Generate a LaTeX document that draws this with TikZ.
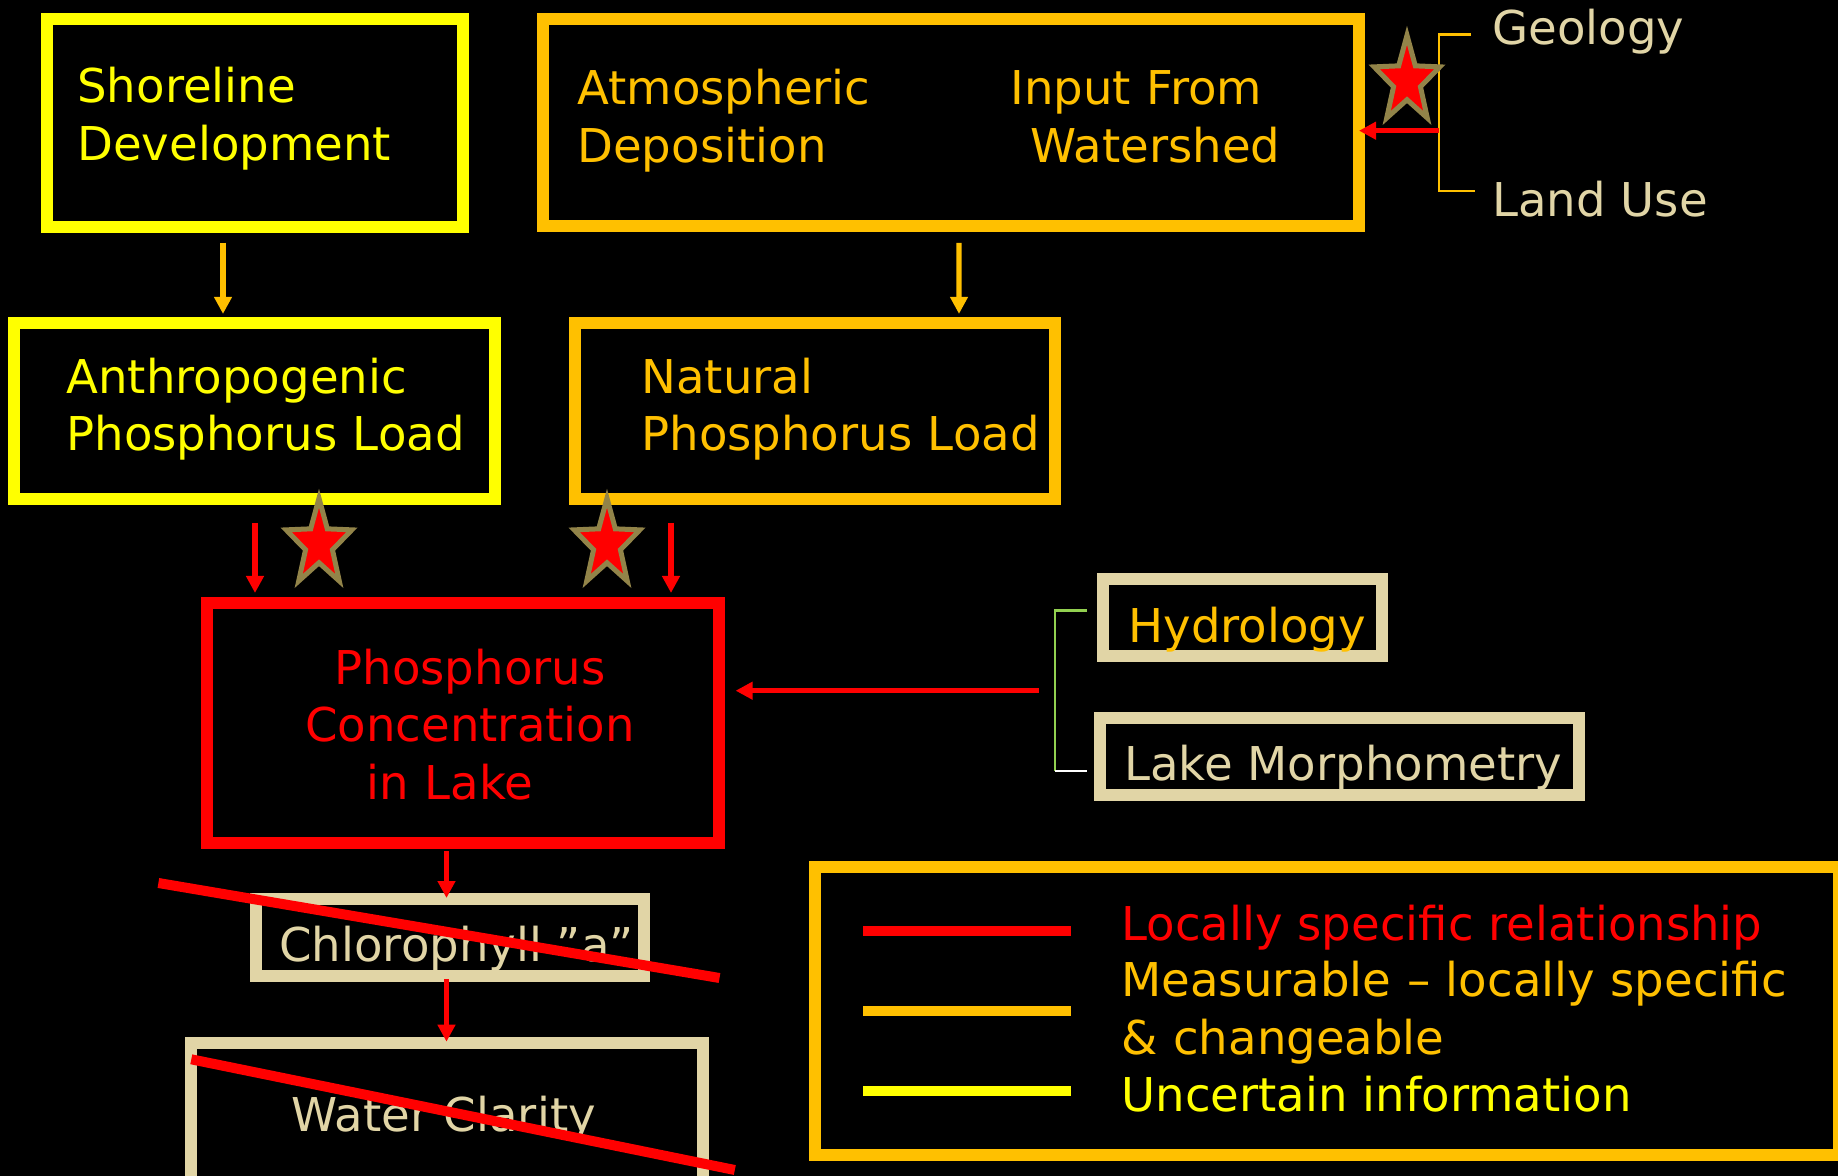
\documentclass[tikz,border=0pt]{standalone}
\usepackage{fontspec}
\setmainfont{DejaVu Sans}
\usepackage{xcolor}
\usepackage{tikz}
\usetikzlibrary{calc}
\usetikzlibrary{positioning}
\usetikzlibrary{arrows.meta}

\definecolor{pptred}{HTML}{FF0000}
\definecolor{pptorange}{HTML}{FFC000}
\definecolor{pptyellow}{HTML}{FFFF00}
\definecolor{ppttan}{HTML}{E1D5A6}
\definecolor{starbrown}{HTML}{928449}
\definecolor{bracegreen}{HTML}{92D050}

\tikzset{
  redstar/.pic={
    \draw[fill=pptred,draw=starbrown,line width=2.5pt]
      (270:1) \foreach \k in {0,...,3}{ -- ({306+72*\k}:0.41) -- ({342+72*\k}:1)}
      -- (594:0.41) -- cycle;}
}

\begin{document}
\begin{tikzpicture}[
      x=0.5pt, y=-0.5pt,
      font=\fontsize{23.3pt}{28.75pt}\selectfont,
      yellowbox/.style={
         draw=pptyellow,
         line width=6pt,
         inner sep=0pt,
         outer sep=0pt},
      orangebox/.style={
         draw=pptorange,
         line width=6pt,
         inner sep=0pt,
         outer sep=0pt},
      redbox/.style={
         draw=pptred,
         line width=6pt,
         inner sep=0pt,
         outer sep=0pt},
      tanbox/.style={
         draw=ppttan,
         line width=6pt,
         inner sep=0pt,
         outer sep=0pt},
      txt/.style={
         anchor=base west,
         inner sep=0pt,
         align=left},
      myarrow/.style={-{Triangle[length=8.5pt,width=8.5pt]},line width=2.6pt},
      thinline/.style={line width=1.2pt},
      crossout/.style={draw=pptred,line width=5pt}
      ]
      \useasboundingbox (0,0) rectangle (1838,1176);
      \fill[black] (0,0) rectangle (1838,1176);

      % boxes
      \node[yellowbox,minimum width=208pt,minimum height=103.7pt] (shore) at (255,123) {};
      \node[orangebox,minimum width=408pt,minimum height=103.5pt] (atmos) at (951,122.5) {};
      \node[yellowbox,minimum width=240.2pt,minimum height=88.2pt] (anthro) at (254.5,410.8) {};
      \node[orangebox,minimum width=240pt,minimum height=88.2pt] (natural) at (814.8,410.8) {};
      \node[redbox,minimum width=255.6pt,minimum height=120pt] (phos) at (463,722.7) {};
      \node[tanbox,minimum width=139.5pt,minimum height=38.5pt] (hydro) at (1242.5,617.5) {};
      \node[tanbox,minimum width=239.5pt,minimum height=38.5pt] (morph) at (1339.5,756.5) {};
      \node[tanbox,minimum width=194pt,minimum height=38.5pt] (chloro) at (449.5,937.5) {};
      \node[tanbox,minimum width=256pt,minimum height=71pt] (clarity) at (447,1114) {};
      \node[orangebox,minimum width=512pt,minimum height=144pt] (legend) at (1327,1011) {};

      % texts
      \node[txt,pptyellow,text width=170pt] (shoreTxt) at (77,103) {Shoreline\\Development};
      \node[txt,pptorange,text width=160pt] (atmosTxt) at (577,105) {Atmospheric\\Deposition};
      \node[txt,pptorange,text width=140pt] (inputTxt) at (1010,105) {Input From\\\hspace*{10pt}Watershed};
      \node[txt,pptyellow,text width=210pt] (anthroTxt) at (66,393.3) {Anthropogenic\\Phosphorus Load};
      \node[txt,pptorange,text width=210pt] (naturalTxt) at (641,393.3) {Natural\\Phosphorus Load};
      \node[txt,pptred,text width=200pt,anchor=base,align=center] (phosTxt) at (470,684) {Phosphorus\\Concentration\\in Lake\hspace*{20pt}};
      \node[txt,pptorange] (hydroTxt) at (1128,643) {Hydrology};
      \node[txt,ppttan] (morphTxt) at (1124,780) {Lake Morphometry};
      \node[txt,ppttan] (chloroTxt) at (279,961.7) {Chlorophyll ”a”};
      \node[txt,ppttan] (clarityTxt) at (291,1131.7) {Water Clarity};
      \node[txt,ppttan] (geo) at (1492,45) {Geology};
      \node[txt,ppttan] (landuse) at (1492,217) {Land Use};
      \node[txt,pptred] (legRed) at (1121,940) {Locally specific relationship};
      \node[txt,pptorange,text width=340pt] (legOrange) at (1121,996.7) {Measurable – locally specific\\\& changeable};
      \node[txt,pptyellow] (legYellow) at (1121,1111.7) {Uncertain information};

    \foreach \i/\j/\di/\si/\dj/\tj/\c in {% from/to/x off/y off/x off/y off/colour
      shore/anthro/-32/16/-31.5/-8.7/pptorange,
      atmos/natural/8/17/144.2/-8.7/pptorange,
      anthro/phos/0.5/24/-208/-9.7/pptred,
      natural/phos/-143.8/24/208/-9.7/pptred,
      phos/chloro/-16.5/8.3/-3/-1/pptred,
      chloro/clarity/-3/3/-0.5/-1.3/pptred}
       \draw[myarrow,\c] ($(\i.south)+(\di,\si)$) -- ($(\j.north)+(\dj,\tj)$);

      % brackets
      \coordinate (gTop) at (1471,34.5);
      \coordinate (lBot) at (1475,191);
      \coordinate (glMid) at (1439,130.7);
      \draw[pptorange,thinline] (gTop) -| (glMid) |- (lBot);
      \draw[myarrow,pptred] (glMid) -- (atmos.east |- glMid);

      \coordinate (hmBrace) at (1055,690.7);
      \coordinate (hTop) at ($(hydro.west)+(-16,-6.8)$);
      \coordinate (mBot) at ($(morph.west)+(-13,14.2)$);
      \draw[bracegreen,thinline] (hTop) -| (hmBrace) -- (hmBrace |- mBot);
      \draw[white,thinline] (hmBrace |- mBot) -- (mBot);
      \draw[myarrow,pptred] ($(hmBrace)+(-16.5,0)$) -- ($(phos.east |- hmBrace)+(17,0)$);

      % stars
      \pic[xscale=34.5,yscale=45.7] (starA) at (319,544) {redstar};
      \pic[xscale=34.5,yscale=45.7] (starB) at (607,544) {redstar};
      \pic[xscale=34.5,yscale=45.7] (starC) at (1407,81) {redstar};

      % crossed out
      \draw[crossout] ($(chloro.center)+(-291.1,-54.5)$) -- ($(chloro.center)+(270,40.5)$);
      \draw[crossout] ($(clarity.center)+(-255.7,-54.7)$) -- ($(clarity.center)+(287.8,56)$);

      % legend lines
      \foreach \c/\dy in {pptred/-80,pptorange/0,pptyellow/79.5}
        \draw[\c,line width=5pt] ($(legend.center)+(-464,\dy)$) -- ++(208.4,0);
    \end{tikzpicture}
\end{document}
